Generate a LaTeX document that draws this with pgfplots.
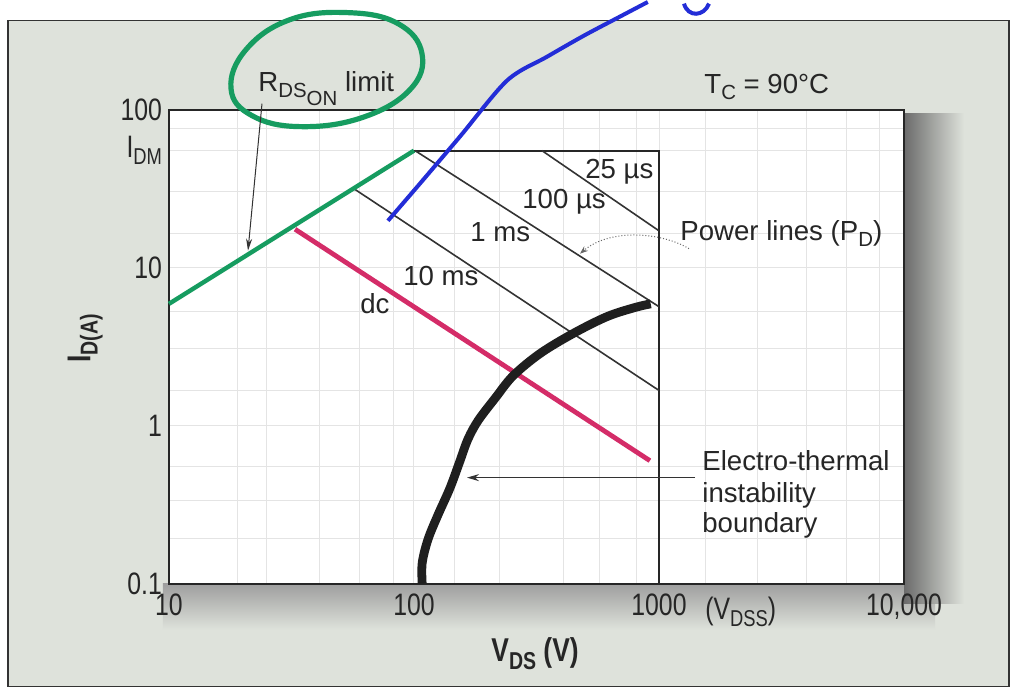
\documentclass[border=0pt]{standalone}
\usepackage{fontspec}
\setmainfont{Liberation Sans}
\newfontfamily\tickfont{Liberation Sans}[FakeStretch=0.8]
\usepackage{graphicx}
\usepackage{pgfplots}
\pgfplotsset{compat=1.18}
\usetikzlibrary{arrows.meta}
\definecolor{panel}{RGB}{222,226,219}
\definecolor{rgreen}{RGB}{22,156,96}
\definecolor{dcred}{RGB}{212,44,104}
\definecolor{hblue}{RGB}{35,45,215}
\definecolor{gridc}{RGB}{228,228,228}
\newcommand\sub[1]{\raisebox{-0.42ex}{\scalebox{0.74}{#1}}}
\newcommand\anno{\fontsize{13.8}{16}\selectfont}
\tikzset{px/.style={x=0.5pt,y=-0.5pt,shift={(-169,-580)}}}
\begin{document}
\begin{tikzpicture}
\begin{scope}[px]
\useasboundingbox (0,0) rectangle (1014,686);
\fill[white] (0,0) rectangle (1014,686);
\fill[panel] (8,17) rectangle (1009,683);
\draw[black!80, line width=0.8pt] (8,17) rectangle (1009,683);
\shade[top color=black!38, bottom color=panel] (163,580) rectangle (935,626);
\shade[left color=black!58, right color=panel] (904,110) rectangle (964,600);
\end{scope}
\begin{axis}[
  at={(0,0)}, anchor=south west, scale only axis,
  width=367.5pt, height=237pt,
  xmode=log, ymode=log,
  xmin=10, xmax=10000, ymin=0.1, ymax=100,
  axis background/.style={fill=white},
  axis line style={line width=1pt, black!85},
  xtick={10,100,1000,10000}, xticklabels={10,100,1000,{10,000}},
  ytick={0.1,1,10,55,100}, yticklabels={0.1,1,10,I\sub{DM},100},
  minor xtick={18.95,25.1,41.3,60.2,82.1,147,224,406,574,813,1541,2512,4018,5852,7980},
  minor ytick={0.193,0.335,0.55,1.67,3.07,5.27,16.4,30.3,75.8},
  grid=both,
  major grid style={gridc, line width=0.5pt},
  minor grid style={gridc, line width=0.5pt},
  major tick length=0pt, minor tick length=0pt,
  tick label style={font=\tickfont\fontsize{15.5}{15.5}\selectfont, text=black!85},
  xticklabel style={yshift=-1.5pt},
  clip=false,
  xlabel={V\sub{DS} (V)},
  ylabel={I\sub{D(A)}},
  xlabel style={at={(axis description cs:0.498,-0.148)}, anchor=center, font=\tickfont\bfseries\fontsize{16.5}{16.5}\selectfont, text=black!85},
  ylabel style={at={(axis description cs:-0.114,0.517)}, anchor=center, font=\tickfont\bfseries\fontsize{16.5}{16.5}\selectfont, text=black!85},
]
% SOA boundary: I_DM line and V_DSS line
\addplot[black!85, line width=0.9pt] coordinates {(100,55) (1000,55) (1000,0.1)};
% power lines
\addplot[black!80, line width=0.8pt] coordinates {(333,55) (1000,17.1)};
\addplot[black!80, line width=0.8pt] coordinates {(101,55) (1000,5.66)};
\addplot[black!80, line width=0.8pt] coordinates {(57,31.5) (1000,1.67)};
% R_DS(on) limit
\addplot[rgreen, line width=2.2pt] coordinates {(10,5.9) (100,55)};
% dc
\addplot[dcred, line width=2.4pt] coordinates {(32.7,17.5) (918,0.6)};
% electro-thermal instability boundary
\addplot[black!88, line width=4.4pt, smooth, tension=0.55] coordinates {
 (108,0.1) (108,0.135) (114,0.19) (125,0.27) (140,0.4) (153,0.58) (166,0.82)
 (183,1.08) (215,1.5) (254,2.07) (327,2.86) (445,3.82) (614,4.9) (800,5.6) (925,5.9)};
% hand-drawn blue stroke
\addplot[hblue, line width=2pt, smooth] coordinates {
 (78.3,19.8) (105.7,34) (154,67.5) (240,153) (349,216) (494,294) (693,388) (900,480)};
\end{axis}
\begin{scope}[px]
% hand-drawn green ellipse
\draw[rgreen, line width=2.6pt] plot[smooth cycle, tension=0.7] coordinates {
 (231,85) (252,112) (300,123) (362,114) (410,86) (422,50) (398,20) (348,9) (290,16) (246,46)};
\draw[hblue, line width=2pt] (684,0) .. controls (688,14) and (704,13) .. (709,0);
% labels
\node[anchor=base west, inner sep=0, font=\anno, text=black!85] at (258,88) {R\sub{DS}\raisebox{-0.95ex}{\scalebox{0.74}{ON}} limit};
\node[anchor=base west, inner sep=0, font=\anno, text=black!85] at (704,90) {T\sub{C} = 90°C};
\node[anchor=base west, inner sep=0, font=\anno, text=black!85] at (585,175) {25 µs};
\node[anchor=base west, inner sep=0, font=\anno, text=black!85] at (522,205) {100 µs};
\node[anchor=base west, inner sep=0, font=\anno, text=black!85] at (470,238) {1 ms};
\node[anchor=base west, inner sep=0, font=\anno, text=black!85] at (403,282) {10 ms};
\node[anchor=base west, inner sep=0, font=\anno, text=black!85] at (360,310) {dc};
\node[anchor=base west, inner sep=0, font=\anno, text=black!85] at (680,237) {Power lines (P\sub{D})};
\node[anchor=base west, inner sep=0, font=\anno, text=black!85] at (702,467) {Electro-thermal};
\node[anchor=base west, inner sep=0, font=\anno, text=black!85] at (702,499) {instability};
\node[anchor=base west, inner sep=0, font=\anno, text=black!85] at (702,529) {boundary};
\node[anchor=base west, inner sep=0, font=\tickfont\fontsize{15.5}{15.5}\selectfont, text=black!85] at (705,616) {(V\sub{DSS})};
% arrows
\draw[black!80, line width=0.5pt, -{Stealth[length=6pt,width=3pt]}] (262,100) -- (248,247);
\draw[black!80, line width=0.6pt, -{Stealth[length=6pt,width=3.5pt]}] (695,474) -- (467,474);
\draw[black!60, line width=0.5pt, densely dotted, -{Stealth[length=4pt,width=3pt]}] (689,245) .. controls (660,228) and (610,225) .. (580,250);
\end{scope}
\end{tikzpicture}
\end{document}
